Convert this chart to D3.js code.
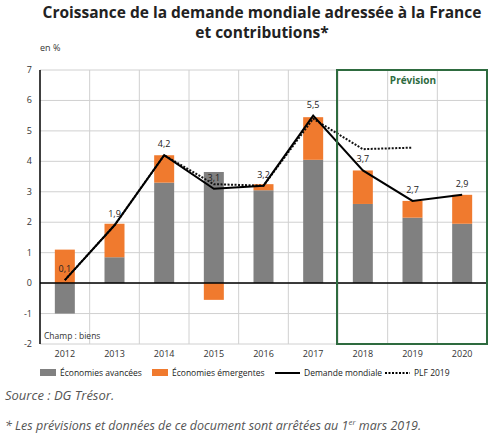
<!DOCTYPE html><html><head><meta charset="utf-8"><script src="https://cdn.jsdelivr.net/npm/d3@7"></script>
<style>body{margin:0;background:#fff;font-family:"Open Sans",Arial,sans-serif}</style></head><body><svg id="c" width="500" height="443"></svg>
<script>
const years=["2012","2013","2014","2015","2016","2017","2018","2019","2020"];
const advanced=[-1.0,0.85,3.3,3.65,3.05,4.05,2.6,2.15,1.95];
const emerging=[1.1,1.1,0.9,-0.55,0.2,1.4,1.1,0.55,0.95];
const demand=[0.1,1.9,4.2,3.1,3.2,5.5,3.7,2.7,2.9];
const demandLabels=["0,1","1,9","4,2","3,1","3,2","5,5","3,7","2,7","2,9"];
const plf=[0.1,1.9,4.2,3.25,3.2,5.4,4.4,4.45];
const yTicks=[-2,-1,0,1,2,3,4,5,6,7];
const svg=d3.select("#c");
const L=40,R=487,T=70,B=344;
const x=d3.scaleBand().domain(years).range([L,R]);
const y=d3.scaleLinear().domain([-2,7]).range([B,T]);
svg.append("text").attr("x",262).attr("y",18).attr("text-anchor","middle").attr("font-size",15.5).attr("font-weight","bold").attr("fill","#222").text("Croissance de la demande mondiale adressée à la France");
svg.append("text").attr("x",262).attr("y",38).attr("text-anchor","middle").attr("font-size",15.5).attr("font-weight","bold").attr("fill","#222").text("et contributions*");
svg.append("text").attr("x",40).attr("y",51).attr("font-size",9).attr("fill","#333").text("en %");
const g=svg.append("g");
yTicks.forEach(t=>{g.append("line").attr("x1",L).attr("x2",R).attr("y1",y(t)).attr("y2",y(t)).attr("stroke","#d0d0d0");});
years.forEach((yr,i)=>{const xx=x(yr)+x.bandwidth();g.append("line").attr("x1",xx).attr("x2",xx).attr("y1",T).attr("y2",B).attr("stroke","#d0d0d0");});
const bw=20;
years.forEach((yr,i)=>{
 const cx=x(yr)+x.bandwidth()/2;
 const a=advanced[i];
 g.append("rect").attr("x",cx-bw/2).attr("width",bw).attr("y",y(Math.max(0,a))).attr("height",Math.abs(y(a)-y(0))).attr("fill","#808080");
 const e=emerging[i];
 let base=(e>=0)?Math.max(0,a):Math.min(0,a);
 const top=base+e;
 g.append("rect").attr("x",cx-bw/2).attr("width",bw).attr("y",y(Math.max(base,top))).attr("height",Math.abs(y(top)-y(base))).attr("fill","#f07a2e");
});
g.append("line").attr("x1",L).attr("x2",R).attr("y1",y(0)).attr("y2",y(0)).attr("stroke","#000").attr("stroke-width",1.5);
g.append("line").attr("x1",L).attr("x2",L).attr("y1",T).attr("y2",B).attr("stroke","#000").attr("stroke-width",1.5);
yTicks.forEach(t=>g.append("text").attr("x",L-8).attr("y",y(t)+3).attr("text-anchor","end").attr("font-size",9).attr("fill","#333").text(t));
years.forEach(yr=>g.append("text").attr("x",x(yr)+x.bandwidth()/2).attr("y",B+13).attr("text-anchor","middle").attr("font-size",9).attr("fill","#333").text(yr));
const cx=(i)=>x(years[i])+x.bandwidth()/2;
g.append("path").datum(plf).attr("d",d3.line().x((d,i)=>cx(i)).y(d=>y(d))).attr("fill","none").attr("stroke","#111").attr("stroke-width",2).attr("stroke-dasharray","2,1.5");
g.append("path").datum(demand).attr("d",d3.line().x((d,i)=>cx(i)).y(d=>y(d))).attr("fill","none").attr("stroke","#000").attr("stroke-width",2);
demand.forEach((d,i)=>g.append("text").attr("x",cx(i)).attr("y",y(d)-8).attr("text-anchor","middle").attr("font-size",9).attr("fill","#222").text(demandLabels[i]));
g.append("rect").attr("x",x("2018")-1).attr("y",T).attr("width",R-x("2018")+1).attr("height",B-T).attr("fill","none").attr("stroke","#2e6b3f").attr("stroke-width",2);
g.append("text").attr("x",413).attr("y",84).attr("text-anchor","middle").attr("font-size",10).attr("font-weight","bold").attr("fill","#2e6b3f").text("Prévision");
g.append("text").attr("x",44).attr("y",339).attr("font-size",8.5).attr("fill","#333").text("Champ : biens");
const lg=svg.append("g").attr("font-size",8.5).attr("fill","#222");
lg.append("rect").attr("x",40).attr("y",369).attr("width",16).attr("height",7).attr("fill","#808080");
lg.append("text").attr("x",60).attr("y",376).text("Économies avancées");
lg.append("rect").attr("x",152).attr("y",369).attr("width",16).attr("height",7).attr("fill","#f07a2e");
lg.append("text").attr("x",172).attr("y",376).text("Économies émergentes");
lg.append("line").attr("x1",275).attr("x2",300).attr("y1",373).attr("y2",373).attr("stroke","#000").attr("stroke-width",2);
lg.append("text").attr("x",304).attr("y",376).text("Demande mondiale");
lg.append("line").attr("x1",385).attr("x2",410).attr("y1",373).attr("y2",373).attr("stroke","#000").attr("stroke-width",2).attr("stroke-dasharray","2,1.5");
lg.append("text").attr("x",414).attr("y",376).text("PLF 2019");
svg.append("text").attr("x",5).attr("y",400).attr("font-size",13).attr("font-style","italic").attr("fill","#555").text("Source : DG Trésor.");
const f=svg.append("text").attr("x",5).attr("y",430).attr("font-size",12.5).attr("font-style","italic").attr("fill","#555");
f.append("tspan").text("* Les prévisions et données de ce document sont arrêtées au 1");
f.append("tspan").attr("dy",-5).attr("font-size",8).text("er");
f.append("tspan").attr("dy",5).text(" mars 2019.");
</script></body></html>
